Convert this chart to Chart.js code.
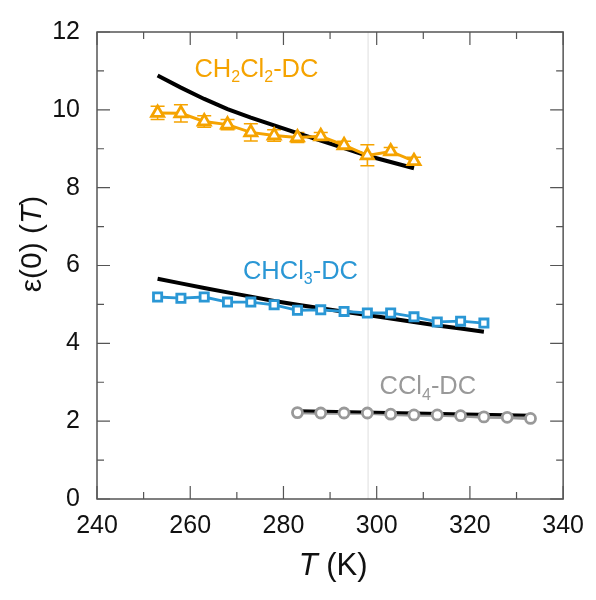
<!DOCTYPE html>
<html>
<head>
<meta charset="utf-8">
<script src="https://cdn.jsdelivr.net/npm/chart.js@4.4.0/dist/chart.umd.min.js"></script>
<style>
  html, body { margin: 0; padding: 0; background: #fff; }
</style>
</head>
<body>
<canvas id="epsChart" width="596" height="600"></canvas>
<script>
// CH2Cl2 (triangles, with error bars) and its model curve
const ch2cl2Temp = [253, 258, 263, 268, 273, 278, 283, 288, 293, 298, 303, 308];
const ch2cl2Eps  = [9.92, 9.91, 9.70, 9.62, 9.42, 9.34, 9.29, 9.32, 9.09, 8.83, 8.93, 8.68];
const ch2cl2Err  = [0.17, 0.22, 0.15, 0.13, 0.22, 0.15, 0.13, 0.10, 0.10, 0.27, 0.10, 0.10];
const ch2cl2Fit  = [10.88, 10.57, 10.28, 10.02, 9.80, 9.60, 9.40, 9.21, 9.02, 8.82, 8.66, 8.50];

// CHCl3 (squares) and model curve
const chcl3Temp = [253, 258, 263, 268, 273, 278, 283, 288, 293, 298, 303, 308, 313, 318, 323];
const chcl3Eps  = [5.19, 5.16, 5.19, 5.06, 5.06, 4.99, 4.85, 4.86, 4.82, 4.78, 4.78, 4.68, 4.55, 4.57, 4.52];
const chcl3Fit  = [5.66, 5.54, 5.42, 5.31, 5.20, 5.09, 4.99, 4.90, 4.81, 4.73, 4.64, 4.55, 4.46, 4.38, 4.30];

// CCl4 (circles) and model line
const ccl4Temp    = [283, 288, 293, 298, 303, 308, 313, 318, 323, 328, 333];
const ccl4Eps     = [2.22, 2.21, 2.21, 2.21, 2.18, 2.16, 2.16, 2.14, 2.11, 2.10, 2.07];
const ccl4FitTemp = [283, 308, 333];
const ccl4Fit     = [2.27, 2.21, 2.15];

const xTicks = [240, 260, 280, 300, 320, 340];
const yTicks = [0, 2, 4, 6, 8, 10, 12];
const roomTemp = 298.15;

const orange = '#F5A300';
const blue = '#2A97D5';
const grey = '#999999';
const fontFam = "'Liberation Sans', Arial, Helvetica, sans-serif";

function pts(xs, ys) {
  return xs.map((t, i) => ({ x: t, y: ys[i] }));
}

// draw text made of [string, isSub, isItalic] pieces
function drawRich(ctx, x, y, parts, size, color) {
  ctx.fillStyle = color;
  ctx.textBaseline = 'alphabetic';
  ctx.textAlign = 'left';
  let cx = x;
  parts.forEach(([s, sub, ital]) => {
    const fs = sub ? Math.round(size * 0.62) : size;
    ctx.font = (ital ? 'italic ' : '') + fs + 'px ' + fontFam;
    ctx.fillText(s, cx, sub ? y + size * 0.22 : y);
    cx += ctx.measureText(s).width;
  });
  return cx - x;
}

function richWidth(ctx, parts, size) {
  let w = 0;
  parts.forEach(([s, sub, ital]) => {
    const fs = sub ? Math.round(size * 0.62) : size;
    ctx.font = (ital ? 'italic ' : '') + fs + 'px ' + fontFam;
    w += ctx.measureText(s).width;
  });
  return w;
}

const decorations = {
  id: 'decorations',
  beforeDatasetsDraw(chart) {
    const { ctx, chartArea: a, scales: { x, y } } = chart;
    ctx.save();
    // thin guide at room temperature
    const rx = x.getPixelForValue(roomTemp);
    ctx.strokeStyle = '#dedede';
    ctx.lineWidth = 1;
    ctx.beginPath();
    ctx.moveTo(rx, a.top);
    ctx.lineTo(rx, a.bottom);
    ctx.stroke();
    // error bars for CH2Cl2
    ctx.strokeStyle = orange;
    ctx.lineWidth = 1.5;
    ch2cl2Temp.forEach((t, i) => {
      const px = x.getPixelForValue(t);
      const top = y.getPixelForValue(ch2cl2Eps[i] + ch2cl2Err[i]);
      const bot = y.getPixelForValue(ch2cl2Eps[i] - ch2cl2Err[i]);
      ctx.beginPath();
      ctx.moveTo(px, top); ctx.lineTo(px, bot);
      ctx.moveTo(px - 7, top); ctx.lineTo(px + 7, top);
      ctx.moveTo(px - 7, bot); ctx.lineTo(px + 7, bot);
      ctx.stroke();
    });
    ctx.restore();
  },
  afterDraw(chart) {
    const { ctx, chartArea: a, scales: { x, y } } = chart;
    ctx.save();
    // frame
    ctx.strokeStyle = '#555';
    ctx.lineWidth = 1.5;
    ctx.strokeRect(a.left, a.top, a.right - a.left, a.bottom - a.top);
    // inward ticks on all four sides
    ctx.lineWidth = 1.2;
    ctx.beginPath();
    for (let i = 0; i < xTicks.length; i++) {
      const px = x.getPixelForValue(xTicks[i]);
      ctx.moveTo(px, a.bottom); ctx.lineTo(px, a.bottom - 13);
      ctx.moveTo(px, a.top); ctx.lineTo(px, a.top + 13);
      if (i < xTicks.length - 1) {
        const mx = x.getPixelForValue((xTicks[i] + xTicks[i + 1]) / 2);
        ctx.moveTo(mx, a.bottom); ctx.lineTo(mx, a.bottom - 7);
        ctx.moveTo(mx, a.top); ctx.lineTo(mx, a.top + 7);
      }
    }
    for (let i = 0; i < yTicks.length; i++) {
      const py = y.getPixelForValue(yTicks[i]);
      ctx.moveTo(a.left, py); ctx.lineTo(a.left + 13, py);
      ctx.moveTo(a.right, py); ctx.lineTo(a.right - 13, py);
      if (i < yTicks.length - 1) {
        const my = y.getPixelForValue((yTicks[i] + yTicks[i + 1]) / 2);
        ctx.moveTo(a.left, my); ctx.lineTo(a.left + 7, my);
        ctx.moveTo(a.right, my); ctx.lineTo(a.right - 7, my);
      }
    }
    ctx.stroke();

    // axis titles
    const xt = [['T', 0, 1], [' (K)', 0, 0]];
    const xw = richWidth(ctx, xt, 31);
    drawRich(ctx, (a.left + a.right) / 2 + 3 - xw / 2, 575, xt, 31, '#111');

    const yt = [['ε(0) (', 0, 0], ['T', 0, 1], [')', 0, 0]];
    const yw = richWidth(ctx, yt, 30);
    ctx.save();
    ctx.translate(41, 244);
    ctx.rotate(-Math.PI / 2);
    drawRich(ctx, -yw / 2, 0, yt, 30, '#111');
    ctx.restore();

    // series labels, anchored in data coordinates
    drawRich(ctx, x.getPixelForValue(260.9), y.getPixelForValue(10.85),
      [['CH', 0, 0], ['2', 1, 0], ['Cl', 0, 0], ['2', 1, 0], ['-DC', 0, 0]], 25.5, orange);
    drawRich(ctx, x.getPixelForValue(271.3), y.getPixelForValue(5.66),
      [['CHCl', 0, 0], ['3', 1, 0], ['-DC', 0, 0]], 25.5, blue);
    drawRich(ctx, x.getPixelForValue(300.6), y.getPixelForValue(2.70),
      [['CCl', 0, 0], ['4', 1, 0], ['-DC', 0, 0]], 25.5, grey);
    ctx.restore();
  }
};

const ctx = document.getElementById('epsChart');
new Chart(ctx, {
  type: 'line',
  data: {
    datasets: [
      {
        label: 'CH2Cl2 fit',
        data: pts(ch2cl2Temp, ch2cl2Fit),
        borderColor: '#000',
        borderWidth: 4,
        pointRadius: 0,
        order: 5
      },
      {
        label: 'CH2Cl2-DC',
        data: pts(ch2cl2Temp, ch2cl2Eps),
        borderColor: orange,
        borderWidth: 3,
        pointStyle: 'triangle',
        pointRadius: 7,
        pointBorderWidth: 2.8,
        pointBackgroundColor: '#fff',
        pointBorderColor: orange,
        order: 1
      },
      {
        label: 'CHCl3 fit',
        data: pts(chcl3Temp, chcl3Fit),
        borderColor: '#000',
        borderWidth: 4,
        pointRadius: 0,
        order: 5
      },
      {
        label: 'CHCl3-DC',
        data: pts(chcl3Temp, chcl3Eps),
        borderColor: blue,
        borderWidth: 2.8,
        pointStyle: 'rect',
        pointRadius: 5.8,
        pointBorderWidth: 2.8,
        pointBackgroundColor: '#fff',
        pointBorderColor: blue,
        order: 1
      },
      {
        label: 'CCl4-DC line',
        data: pts(ccl4Temp, ccl4Eps),
        borderColor: grey,
        borderWidth: 3.5,
        pointRadius: 0,
        order: 6
      },
      {
        label: 'CCl4 fit',
        data: pts(ccl4FitTemp, ccl4Fit),
        borderColor: '#000',
        borderWidth: 3,
        pointRadius: 0,
        order: 5
      },
      {
        label: 'CCl4-DC',
        data: pts(ccl4Temp, ccl4Eps),
        showLine: false,
        pointStyle: 'circle',
        pointRadius: 5,
        pointBorderWidth: 2.8,
        pointBackgroundColor: '#fff',
        pointBorderColor: grey,
        order: 1
      }
    ]
  },
  options: {
    responsive: false,
    animation: false,
    layout: { padding: { left: 0, top: 29, right: 29, bottom: 0 } },
    plugins: { legend: { display: false }, tooltip: { enabled: false } },
    scales: {
      x: {
        type: 'linear',
        min: 240,
        max: 340,
        grid: { display: false, drawTicks: false },
        border: { display: false },
        afterBuildTicks: s => { s.ticks = xTicks.map(v => ({ value: v })); },
        afterFit: s => { s.height = 101; },
        ticks: { color: '#111', font: { family: fontFam, size: 25 }, padding: 12, maxRotation: 0 }
      },
      y: {
        type: 'linear',
        min: 0,
        max: 12,
        grid: { display: false, drawTicks: false },
        border: { display: false },
        afterBuildTicks: s => { s.ticks = yTicks.map(v => ({ value: v })); },
        afterFit: s => { s.width = 97; },
        ticks: { color: '#111', font: { family: fontFam, size: 25 }, padding: 17 }
      }
    }
  },
  plugins: [decorations]
});
</script>
</body>
</html>
